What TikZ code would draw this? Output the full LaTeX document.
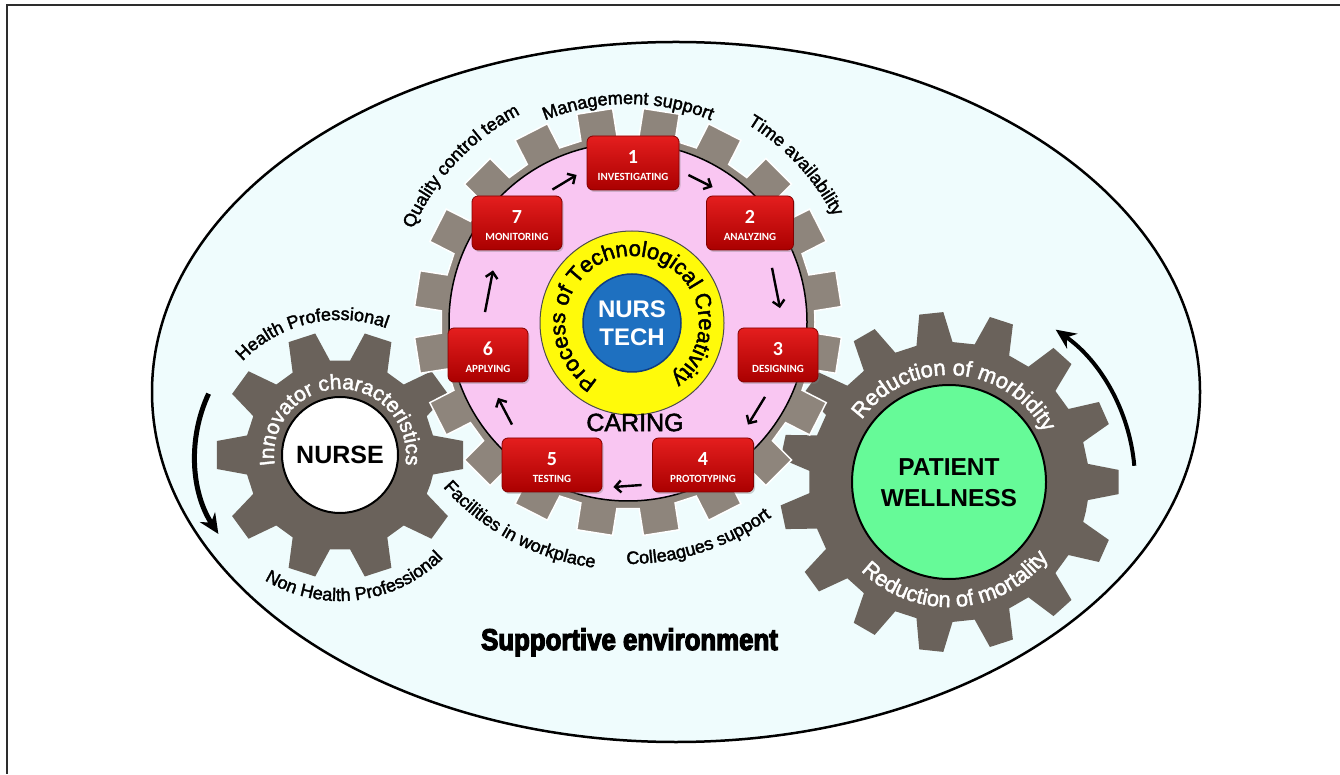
\documentclass[tikz,border=0pt]{standalone}
\usepackage{fontspec}
\setmainfont{Liberation Sans}
\newfontfamily\boxfont{Carlito}
\newfontfamily\labfont{Liberation Sans}[FakeBold=2]
\newfontfamily\heavyfont{Liberation Sans}[FakeBold=4,FakeStretch=0.86]
\usetikzlibrary{decorations.text,arrows.meta,shadows,calc}

\definecolor{envbg}{RGB}{239,252,253}
\definecolor{gearlight}{RGB}{142,133,124}
\definecolor{geardark}{RGB}{106,98,91}
\definecolor{pinkfill}{RGB}{249,198,242}
\definecolor{yellowfill}{RGB}{255,250,10}
\definecolor{bluefill}{RGB}{30,112,192}
\definecolor{blueline}{RGB}{15,60,130}
\definecolor{greenfill}{RGB}{102,250,152}
\definecolor{redtop}{RGB}{228,30,30}
\definecolor{redbot}{RGB}{170,0,0}
\definecolor{redline}{RGB}{130,0,0}
\definecolor{framegray}{RGB}{45,45,45}

% gear outline centred at the origin of the current scope
% #1 style, #2 teeth, #3 root radius, #4 tip radius, #5 phase, #6 root half width, #7 tip half width (fractions of pitch)
\newcommand\gearshape[7]{%
  \pgfmathsetmacro\gearp{360/#2}%
  \pgfmathtruncatemacro\gearn{#2-1}%
  \path[#1] ({#5-0.5*\gearp}:#3pt)
    \foreach \i in {0,...,\gearn}{
      -- ({#5+\i*\gearp-#6*\gearp}:#3pt) -- ({#5+\i*\gearp-#7*\gearp}:#4pt)
      -- ({#5+\i*\gearp+#7*\gearp}:#4pt) -- ({#5+\i*\gearp+#6*\gearp}:#3pt)
    } -- cycle;
}
% text on an arc: #1 centre, #2 radius, #3 start angle, #4 end angle, #5 format, #6 text
\newcommand\arctext[6]{%
  \path[decorate,decoration={text along path,text align=center,text={|#5|#6}}]
    (#1) ++(#3:#2pt) arc(#3:#4:#2pt);
}
\newcommand\outfmt{\labfont\fontsize{18}{18}\selectfont}
\newcommand\whitefmt{\labfont\fontsize{21}{21}\selectfont\color{white}}
\newcommand\rgfmt{\labfont\fontsize{22}{22}\selectfont\color{white}}
\newcommand\yfmt{\labfont\fontsize{22}{22}\selectfont}

\newcommand\stepbox[6]{%
  \node[redbox,minimum width=#4pt] (#1) at (#2,#3) {};
  \node[numtxt] (#1n) at ([yshift=6pt]#1.center) {#5};
  \node[labtxt] (#1l) at ([yshift=-14pt]#1.center) {#6};
}

\tikzset{
  redbox/.style={rounded corners=6pt,minimum height=54pt,inner sep=0pt,
    top color=redtop,bottom color=redbot,draw=redline,line width=0.8pt,
    drop shadow={shadow xshift=1.5pt,shadow yshift=-2pt,opacity=0.35}},
  numtxt/.style={font=\boxfont\bfseries\fontsize{20}{20}\selectfont,text=white,inner sep=0pt},
  labtxt/.style={font=\boxfont\bfseries\fontsize{11}{11}\selectfont,text=white,inner sep=0pt},
  flow/.style={-{Straight Barb[length=6pt,width=12pt]},line width=2.4pt,black},
  bigarrow/.style={-{Stealth[length=20pt,width=18pt]},line width=5pt,black},
  disc/.style={circle,inner sep=0pt},
}

\begin{document}
\begin{tikzpicture}[x=1pt,y=1pt]
\useasboundingbox (0,0) rectangle (1340,774);
\fill[white] (0,0) rectangle (1340,774);
\draw[framegray,line width=2pt] (1340,769) -- (7,769) -- (7,0);

% supportive environment
\draw[black,line width=2.5pt,fill=envbg] (676,382) ellipse [x radius=524pt,y radius=350pt];

\coordinate (G) at (628,452);
\coordinate (C) at (632,451);
\coordinate (L) at (340,319);
\coordinate (R) at (949,292);

% side gears
\begin{scope}[shift={(L)}]
  \gearshape{fill=geardark}{10}{95}{124}{0}{0.33}{0.18}
\end{scope}
\begin{scope}[shift={(R)}]
  \gearshape{fill=geardark}{15}{140}{170}{0}{0.31}{0.17}
\end{scope}
% central gear
\begin{scope}[shift={(G)}]
  \gearshape{fill=gearlight,draw=white,line width=1.5pt}{20}{187}{214}{9}{0.31}{0.27}
\end{scope}

\node[disc,fill=pinkfill,draw=black,line width=1.5pt,minimum size=358pt] (pinkdisc) at (G) {};
\node[disc,fill=yellowfill,draw=black!70,line width=1pt,minimum size=184pt] (ring) at (C) {};
\node[disc,fill=bluefill,draw=blueline,line width=1.5pt,minimum size=98pt] (core) at (C) {};
\node[disc,fill=white,draw=black,line width=2pt,minimum size=116pt] (nursedisc) at (L) {};
\node[disc,fill=greenfill,draw=black,line width=2pt,minimum size=194pt] (welldisc) at (R) {};

% centre texts
\node[font=\bfseries\fontsize{24}{28}\selectfont,align=center,text=white] (nt) at (C) {NURS\\TECH};
\arctext{C}{67}{252}{-67}{\yfmt}{Process of Technological Creativity}
\node[font=\labfont\fontsize{25}{25}\selectfont] (caring) at (635,351.5) {CARING};

% nurse gear
\node[font=\bfseries\fontsize{25}{25}\selectfont] (nurse) at (L) {NURSE};
\arctext{L}{66}{200}{-20}{\whitefmt}{Innovator characteristics}
\arctext{L}{135}{163}{43}{\outfmt}{Health Professional}
\arctext{L}{146}{217}{337}{\outfmt}{Non Health Professional}

% patient gear
\node[font=\bfseries\fontsize{24.5}{31}\selectfont,align=center] (pw) at (949,291.5) {PATIENT\\WELLNESS};
\arctext{R}{107}{156}{16}{\rgfmt}{Reduction of morbidity}
\arctext{R}{125}{204}{344}{\rgfmt}{Reduction of mortality}

% labels around the central gear
\arctext{G}{218}{130}{50}{\outfmt}{Management support}
\arctext{G}{231}{83}{3}{\outfmt}{Time availability}
\arctext{G}{234}{177}{97}{\outfmt}{Quality control team}
\arctext{G}{248}{202}{282}{\outfmt}{Facilities in workplace}
\arctext{G}{242}{248}{328}{\outfmt}{Colleagues support}

% steps
\stepbox{b1}{633}{611}{92}{1}{INVESTIGATING}
\stepbox{b2}{750}{551}{87}{2}{ANALYZING}
\stepbox{b3}{778}{419}{80}{3}{DESIGNING}
\stepbox{b4}{703}{309}{101}{4}{PROTOTYPING}
\stepbox{b5}{552}{309}{100}{5}{TESTING}
\stepbox{b6}{488}{419}{80}{6}{APPLYING}
\stepbox{b7}{517}{551}{90}{7}{MONITORING}

\draw[flow] ([shift={(-10pt,6pt)}]b7.north east) -- ([shift={(-10pt,-12pt)}]b1.west);
\draw[flow] ([shift={(9pt,-12pt)}]b1.east) -- ([shift={(6.5pt,8.5pt)}]b2.north west);
\draw[flow] ([shift={(22pt,-17.5pt)}]b2.south) -- ([shift={(2pt,19.5pt)}]b3.north);
\draw[flow] ([shift={(-13pt,-14.5pt)}]b3.south) -- ([shift={(45pt,13pt)}]b4.north);
\draw[flow] ([shift={(-10.5pt,-20pt)}]b4.west) -- ([shift={(11pt,-22pt)}]b5.east);
\draw[flow] ([shift={(-40pt,13pt)}]b5.north) -- ([shift={(10pt,-15.5pt)}]b6.south);
\draw[flow] ([shift={(-3pt,15.5pt)}]b6.north) -- ([shift={(-24pt,-20pt)}]b7.south);

% rotation arrows
\coordinate (la) at ($(L)+(155:145pt)$);
\draw[bigarrow] (la) arc(155:213:145pt);
\coordinate (ra) at ($(R)+(5:186pt)$);
\draw[bigarrow,line width=4pt] (ra) arc(5:55:186pt);

% caption
\node[font=\heavyfont\bfseries\fontsize{30}{30}\selectfont,anchor=base] (env) at (629.5,124) {Supportive environment};
\end{tikzpicture}
\end{document}
